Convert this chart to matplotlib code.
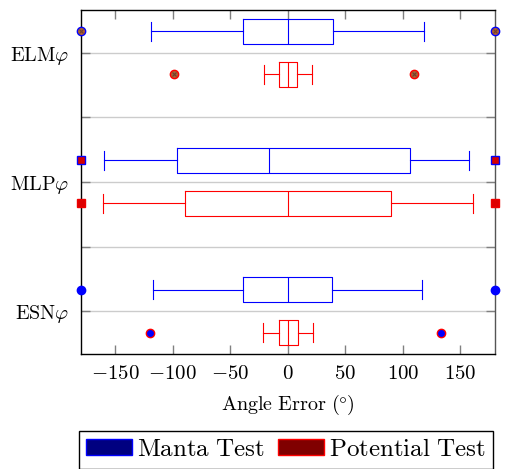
import matplotlib.pyplot as plt
from matplotlib.patches import Patch

plt.rcParams['mathtext.fontset'] = 'cm'
plt.rcParams['font.family'] = 'serif'
plt.rcParams['font.serif'] = ['DejaVu Serif']

models = ['ELM', 'MLP', 'ESN']
# whislo, q1, med, q3, whishi
manta_stats = [[-119, -39, 0, 39, 118],
               [-160, -96, -16, 106, 157],
               [-117, -39, 0, 38, 117]]
potential_stats = [[-21, -8, 0, 8, 21],
                   [-161, -89, 0, 90, 161],
                   [-22, -8, 0, 9, 22]]
manta_fliers = [[-180, 180], [-180, 180], [-180, 180]]
potential_fliers = [[-99, 110], [-180, 180], [-120, 133]]
xticks = [-150, -100, -50, 0, 50, 100, 150]

# marker styles for outliers (marker, face, edge, cross)
manta_mk = [('o', '#b06030', '#0000ff', True), ('s', '#d40000', '#0000ff', False), ('o', '#0000ff', '#0000ff', False)]
pot_mk = [('o', '#b06030', '#ff0000', True), ('s', '#dd0000', '#ee0000', False), ('o', '#0000ff', '#ff0000', False)]

fig = plt.figure(figsize=(5.05, 4.69), dpi=100)
ax = fig.add_axes([80.7/505, 1-354/469, (495-80.7)/505, (354-10)/469])

def box(ax, s, pos, color, mk, fliers):
    st = [dict(whislo=s[0], q1=s[1], med=s[2], q3=s[3], whishi=s[4], fliers=[])]
    lp = dict(color=color, linewidth=0.8)
    ax.bxp(st, positions=[pos], widths=0.6, capwidths=0.46, orientation='horizontal',
           showfliers=False, boxprops=lp, whiskerprops=lp, capprops=lp, medianprops=lp,
           manage_ticks=False)
    ax.plot(fliers, [pos]*len(fliers), linestyle='none', marker=mk[0], markersize=6,
            markerfacecolor=mk[1], markeredgecolor=mk[2], markeredgewidth=1, clip_on=False, zorder=5)
    if mk[3]:
        ax.plot(fliers, [pos]*len(fliers), linestyle='none', marker='x', markersize=3.5,
                markeredgecolor='#704030', markeredgewidth=0.8, clip_on=False, zorder=6)

for i in range(3):
    box(ax, manta_stats[i], 3*i+1, '#0000ff', manta_mk[i], manta_fliers[i])
    box(ax, potential_stats[i], 3*i+2, '#ff0000', pot_mk[i], potential_fliers[i])

ax.set_xlim(-180, 180)
ax.set_ylim(8.5, 0.5)
ax.set_xticks(xticks, ['$%d$' % v for v in xticks], fontsize=15)
ax.set_yticks([1.5, 4.5, 7.5], [r'$\mathrm{%s}\varphi$' % m for m in models], fontsize=14.5)
ax.set_yticks([3, 6], minor=True)
ax.tick_params(axis='both', which='both', direction='in', color='#808080', length=6.5, width=1,
               top=True, right=True)
ax.tick_params(axis='x', pad=7)
ax.tick_params(axis='y', pad=8)
ax.grid(axis='y', which='both', color='#cccccc', linewidth=1)
ax.set_axisbelow(True)
for sp in ax.spines.values():
    sp.set_linewidth(1)
ax.spines['right'].set_color('#555555')
ax.set_xlabel(r'$\mathrm{Angle\ Error\ (\degree)}$', fontsize=14.5, labelpad=7)

handles = [Patch(facecolor='#000080', edgecolor='#0000ff', label=r'$\mathrm{Manta\ Test}$'),
           Patch(facecolor='#800000', edgecolor='#ff0000', label=r'$\mathrm{Potential\ Test}$')]
leg = fig.legend(handles=handles, loc='upper left', bbox_to_anchor=(78.7/505, 1-430.7/469),
                 ncol=2, fontsize=18, frameon=True, fancybox=False, edgecolor='black',
                 framealpha=1, borderaxespad=0, borderpad=0.3, handlelength=1.84,
                 handleheight=0.6, handletextpad=0.2, columnspacing=0.5)
leg.get_frame().set_linewidth(1)

fig.savefig('out.png', dpi=100)
